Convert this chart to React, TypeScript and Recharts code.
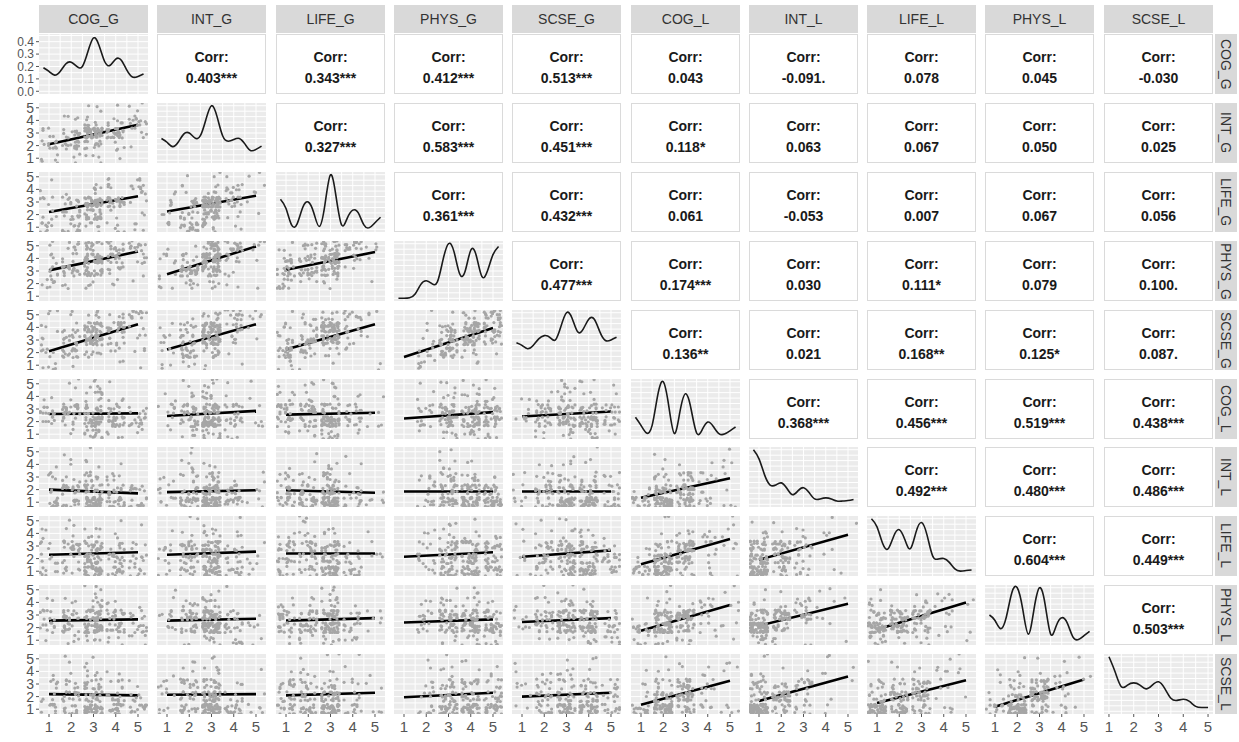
import { ComposedChart, Scatter, Line, XAxis, YAxis, CartesianGrid } from "recharts"

const VARIABLES = ["COG_G", "INT_G", "LIFE_G", "PHYS_G", "SCSE_G", "COG_L", "INT_L", "LIFE_L", "PHYS_L", "SCSE_L"]

// item scores (1-5), one entry per respondent
const COG_G = [3,2,4,3,5,3,1,3,4,2, 3,3,2,4,1,3,5,3,4,3, 2,3,3,1,4,3,2,5,3,4, 3,2,3,4,3,1,3,2,5,4, 3,3,4,2,3,5,1,3,4,3, 2,3,3,4,1,2,3,5,3,4, 3,2,4,3,3,1,5,3,2,4, 3,4,2,3,3,5,1,3,4,2, 3,3,2,4,5,3,1,3,4,3, 2,3,4,3,5,1,3,2,4,3,
    4,3,2,5,3,1,4,2,3,3, 5,2,3,4,3,2,1,4,3,5, 3,4,2,3,1,3,4,5,2,3, 4,3,3,2,5,1,3,4,2,3, 3,5,2,4,3,3,1,2,4,3, 2,4,3,1,3,5,3,2,4,3, 3,1,4,3,2,5,3,4,3,2, 4,3,5,2,3,1,3,4,2,3, 3,2,4,5,3,3,1,2,4,3, 5,3,2,3,4,1,3,3,2,4]
const INT_G = [3,3,3,2,4,3,3,2,3,3, 2,3,3,3,1,3,4,3,2,3, 4,3,2,3,3,1,3,2,3,4, 3,3,3,2,4,3,2,1,3,3, 4,3,3,2,3,3,1,2,4,3, 3,3,2,3,3,4,1,3,3,2, 3,4,3,1,3,2,4,3,3,3, 2,3,3,5,2,4,3,1,3,3, 2,3,4,3,3,5,2,3,1,3, 3,4,2,3,3,2,5,3,3,2,
    3,3,2,4,3,2,3,2,3,4, 4,2,3,3,3,1,2,4,3,4, 3,3,2,3,2,3,4,5,2,3, 3,3,4,2,4,1,3,3,2,3, 3,4,2,3,3,2,1,3,4,3, 2,3,3,2,3,5,3,2,3,3, 3,2,4,3,2,4,3,3,3,1, 3,3,4,2,3,2,3,5,2,3, 3,2,3,4,3,3,1,2,3,4, 5,3,2,3,3,2,3,4,2,3]
const LIFE_G = [2,3,1,3,4,2,3,1,3,3, 1,3,2,3,4,3,1,2,3,2, 3,1,3,2,3,4,3,1,3,2, 3,2,1,3,3,2,4,3,1,5, 2,3,3,1,2,3,3,4,1,3, 3,2,3,1,3,3,2,4,3,1, 2,3,1,3,4,3,2,1,3,3, 4,1,3,2,3,3,5,2,3,1, 3,2,3,3,1,4,3,2,3,1, 2,3,5,3,2,1,3,4,2,3,
    3,2,1,4,3,1,3,2,3,3, 4,1,3,3,2,2,1,3,3,4, 2,3,1,3,1,3,4,4,2,3, 3,2,3,1,4,1,3,3,2,2, 3,4,1,3,3,2,1,2,3,3, 1,3,3,2,3,5,2,1,4,3, 3,1,3,3,2,4,3,3,2,1, 3,3,5,2,2,1,3,4,1,3, 3,2,3,4,2,3,1,2,3,4, 5,3,1,3,3,2,2,3,1,4]
const PHYS_G = [3,5,4,3,4,5,3,2,5,4, 4,3,5,3,4,2,4,5,3,4, 5,4,3,3,5,4,2,4,5,3, 3,4,5,3,4,5,3,3,4,2, 5,3,4,4,3,5,4,3,2,5, 4,3,5,3,4,3,5,4,3,4, 3,5,2,4,5,3,4,5,3,4, 4,3,5,4,3,2,5,4,3,5, 3,4,4,5,3,5,3,2,4,4, 5,3,4,3,5,4,2,5,3,4,
    4,4,3,5,4,2,4,3,4,5, 5,3,4,4,3,2,3,5,4,5, 3,4,3,4,2,4,5,5,3,4, 4,3,4,3,5,2,4,5,3,4, 4,5,3,4,3,3,2,3,5,4, 3,4,4,2,4,5,4,3,5,3, 4,2,5,4,3,5,3,4,4,3, 5,4,5,3,4,2,3,5,3,4, 4,3,5,5,4,4,2,3,4,5, 5,4,3,4,4,3,3,4,2,5]
const SCSE_G = [4,3,2,4,5,3,4,2,3,4, 3,2,4,5,3,3,2,4,4,3, 5,4,3,2,3,4,1,3,5,4, 2,3,4,4,3,5,2,3,4,1, 3,4,5,3,2,4,3,4,3,5, 4,2,3,3,5,4,3,2,4,3, 3,5,4,2,3,4,1,4,3,3, 4,3,2,5,4,3,3,4,2,4, 3,5,3,4,2,3,4,5,3,2, 4,3,1,4,3,5,4,3,2,4,
    4,3,2,5,4,2,4,3,3,4, 5,2,3,4,3,2,2,4,3,5, 3,4,2,4,1,3,5,5,2,4, 4,3,4,2,5,1,3,4,3,3, 4,5,2,4,3,3,1,3,4,4, 2,4,3,2,3,5,4,2,4,3, 4,1,4,3,3,5,3,4,3,2, 4,4,5,2,3,2,3,5,2,3, 4,2,4,5,3,4,1,3,4,4, 5,3,2,4,4,2,3,4,2,4]
const COG_L = [2,3,2,1,3,2,2,4,3,2, 3,2,5,2,3,1,2,3,2,4, 3,2,1,3,2,3,2,2,4,3, 2,3,2,1,5,3,2,3,2,2, 4,3,2,3,1,2,3,2,3,5, 2,3,2,4,3,2,1,3,2,3, 2,3,2,2,4,3,2,1,3,2, 3,5,2,3,2,2,3,4,1,3, 2,2,3,2,3,4,2,3,2,1, 3,2,4,2,3,2,5,3,2,3,
    3,1,2,2,4,2,3,1,2,3, 2,3,2,1,2,3,4,2,3,1, 2,2,3,5,2,1,3,2,3,2, 4,2,1,3,2,3,2,2,5,3, 2,1,3,2,2,3,4,3,2,1, 3,2,2,3,5,2,3,1,2,2, 3,2,1,2,3,2,4,3,2,3, 2,1,3,2,4,3,2,2,3,2, 1,3,2,3,2,2,3,5,2,3, 2,2,4,1,3,2,3,2,3,2]
const INT_L = [1,1,2,1,2,1,3,1,1,2, 1,2,1,3,1,1,2,1,4,1, 1,2,1,1,3,2,1,1,2,1, 3,1,1,2,1,1,4,1,2,1, 1,3,1,1,2,1,1,5,1,2, 2,1,1,1,3,2,1,2,1,1, 1,2,3,1,1,1,2,1,4,2, 1,1,2,3,1,2,1,1,2,1, 3,1,1,2,1,2,1,1,3,2, 1,2,1,1,2,1,3,2,1,1,
    2,1,1,1,3,1,2,1,1,2, 1,3,1,1,2,2,4,1,2,1, 1,2,2,4,1,1,3,1,2,1, 3,1,1,2,1,2,1,2,5,3, 1,1,2,1,2,3,3,2,1,1, 2,1,1,3,4,1,2,1,1,2, 3,1,1,1,2,2,3,2,1,2, 1,1,2,1,3,2,1,2,3,1, 1,2,1,2,1,1,3,4,1,2, 1,2,3,1,2,1,2,1,3,1]
const LIFE_L = [1,3,2,1,2,3,1,2,1,3, 2,1,3,2,1,3,1,4,2,1, 3,1,2,3,1,2,1,3,2,4, 1,2,3,1,3,2,1,1,3,2, 4,1,2,3,2,1,3,1,2,3, 1,2,3,1,2,4,3,1,1,2, 3,1,2,3,1,2,5,1,3,1, 2,3,1,1,3,2,4,1,2,3, 1,2,3,1,2,3,1,4,2,1, 3,1,2,2,3,1,1,2,5,3,
    3,1,2,1,3,1,3,1,2,2, 1,3,2,1,2,3,4,1,3,1, 1,2,3,4,2,1,3,2,2,1, 4,1,1,3,2,2,1,3,5,3, 2,1,2,1,2,3,4,3,1,1, 3,1,2,2,4,2,3,1,1,2, 3,1,1,2,3,1,4,2,2,3, 1,1,3,2,3,3,1,2,3,1, 1,3,2,2,1,2,3,5,1,3, 2,2,3,1,3,1,2,2,4,1]
const PHYS_L = [3,2,2,3,1,2,3,4,2,2, 3,2,1,3,2,4,3,2,2,3, 1,3,2,2,4,3,2,3,2,1, 3,2,4,2,3,2,3,2,1,3, 2,4,3,2,2,3,2,1,3,2, 3,2,3,2,1,3,2,4,3,2, 2,1,3,5,2,3,2,2,3,4, 3,2,2,1,3,2,3,3,2,2, 4,3,2,3,2,1,3,2,3,2, 2,5,3,2,3,2,2,3,1,3,
    3,2,2,1,4,2,3,2,2,3, 2,3,2,1,3,3,4,2,3,2, 2,2,3,5,2,1,3,2,3,2, 4,2,2,3,2,3,2,3,4,3, 2,1,3,2,3,3,4,3,2,2, 3,2,2,3,5,2,3,1,2,3, 3,2,1,2,3,2,4,3,2,3, 2,2,3,2,4,3,2,3,3,1, 2,3,2,3,2,2,3,4,2,3, 2,3,4,2,3,2,3,2,3,2]
const SCSE_L = [1,2,1,3,1,1,2,1,3,1, 2,1,1,2,3,1,1,4,1,2, 1,3,2,1,1,2,5,1,2,1, 3,1,2,1,1,3,2,1,2,4, 1,1,3,2,1,2,1,3,1,1, 2,3,1,1,2,1,4,1,2,3, 1,2,1,3,1,1,2,3,1,2, 5,1,2,1,3,2,1,1,2,3, 1,3,1,2,1,4,1,2,1,1, 2,1,3,1,2,3,1,1,4,2,
    2,1,1,1,3,1,2,1,2,2, 1,3,1,1,2,2,4,1,3,1, 1,2,2,5,1,1,3,1,2,1, 3,1,1,2,1,3,1,2,4,3, 1,1,2,1,2,3,3,2,1,1, 3,1,1,2,4,1,3,1,1,2, 3,1,1,1,3,2,4,2,1,2, 1,1,3,1,3,2,1,2,3,1, 1,2,1,3,1,1,3,5,1,2, 1,2,3,1,2,1,2,1,3,1]

// jitter offsets applied to the points
const JITTER_X = [-0.34, 0.12, 0.29, -0.08, 0.38, -0.22, 0.04, -0.39, 0.19, -0.14, 0.33, -0.27, 0.08, -0.02, 0.24, -0.31, 0.16]
const JITTER_Y = [0.21, -0.27, 0.05, 0.32, -0.1, -0.36, 0.16, 0.38, -0.2, 0.09, -0.32, 0.27, -0.03, 0.13, -0.24, 0.35, -0.15, 0.01, -0.39]

// kernel density on the diagonal (COG_G in density units, the rest scaled to their peak)
const DENSITY_X = [0.75, 1, 1.25, 1.5, 1.75, 2, 2.25, 2.5, 2.75, 3, 3.25, 3.5, 3.75, 4, 4.25, 4.5, 4.75, 5, 5.25]
const DENS_COG_G = [0.19, 0.16, 0.13, 0.16, 0.22, 0.235, 0.2, 0.2, 0.32, 0.43, 0.37, 0.24, 0.21, 0.26, 0.25, 0.17, 0.115, 0.12, 0.14]
const DENS_INT_G = [0.4, 0.33, 0.25, 0.33, 0.48, 0.5, 0.41, 0.45, 0.75, 1.0, 0.8, 0.45, 0.35, 0.38, 0.4, 0.3, 0.18, 0.2, 0.26]
const DENS_LIFE_G = [0.55, 0.38, 0.08, 0.1, 0.4, 0.5, 0.3, 0.05, 0.45, 1.0, 0.6, 0.08, 0.2, 0.35, 0.3, 0.08, 0.03, 0.12, 0.22]
const DENS_PHYS_G = [0, 0, 0.01, 0.08, 0.25, 0.32, 0.27, 0.3, 0.7, 1.0, 0.85, 0.45, 0.5, 0.88, 0.78, 0.4, 0.5, 0.8, 0.95]
const DENS_SCSE_G = [0.45, 0.4, 0.34, 0.4, 0.52, 0.58, 0.55, 0.5, 0.75, 1.0, 0.9, 0.65, 0.7, 0.88, 0.88, 0.65, 0.49, 0.5, 0.55]
const DENS_COG_L = [0.35, 0.2, 0.06, 0.2, 0.75, 1.0, 0.55, 0.05, 0.45, 0.78, 0.5, 0.06, 0.12, 0.26, 0.18, 0.05, 0.04, 0.1, 0.17]
const DENS_INT_L = [1.02, 0.85, 0.55, 0.36, 0.36, 0.4, 0.3, 0.18, 0.25, 0.31, 0.22, 0.1, 0.1, 0.12, 0.1, 0.06, 0.06, 0.07, 0.09]
const DENS_LIFE_L = [1.0, 0.85, 0.55, 0.45, 0.68, 0.8, 0.62, 0.45, 0.75, 0.93, 0.7, 0.32, 0.26, 0.27, 0.2, 0.08, 0.04, 0.05, 0.06]
const DENS_PHYS_L = [0.5, 0.4, 0.25, 0.45, 0.9, 1.0, 0.6, 0.15, 0.6, 1.0, 0.7, 0.15, 0.3, 0.45, 0.35, 0.1, 0.05, 0.12, 0.2]
const DENS_SCSE_L = [1.2, 1.0, 0.72, 0.45, 0.48, 0.52, 0.48, 0.41, 0.48, 0.54, 0.42, 0.24, 0.2, 0.22, 0.18, 0.09, 0.07, 0.07, 0.08]

// upper triangle: Pearson r and significance, row by row
const CORR = [
    [0.403, 0.343, 0.412, 0.513, 0.043, -0.091, 0.078, 0.045, -0.03],
    [0.327, 0.583, 0.451, 0.118, 0.063, 0.067, 0.05, 0.025],
    [0.361, 0.432, 0.061, -0.053, 0.007, 0.067, 0.056],
    [0.477, 0.174, 0.03, 0.111, 0.079, 0.1],
    [0.136, 0.021, 0.168, 0.125, 0.087],
    [0.368, 0.456, 0.519, 0.438],
    [0.492, 0.48, 0.486],
    [0.604, 0.449],
    [0.503],
]
const SIGNIF = [
    ["***", "***", "***", "***", "", ".", "", "", ""],
    ["***", "***", "***", "*", "", "", "", ""],
    ["***", "***", "", "", "", "", ""],
    ["***", "***", "", "*", "", "."],
    ["**", "", "**", "*", "."],
    ["***", "***", "***", "***"],
    ["***", "***", "***"],
    ["***", "***"],
    ["***"],
]

// lower triangle: fitted line at x = 1 and x = 5
const FIT_AT_1 = [
    [],
    [2.1],
    [2.2, 2.25],
    [3.05, 2.75, 3.1],
    [2.1, 2.25, 2.25, 1.65],
    [2.6, 2.45, 2.55, 2.25, 2.4],
    [2.0, 1.8, 1.95, 1.85, 1.85, 1.35],
    [2.3, 2.3, 2.4, 2.15, 2.15, 1.55, 1.9],
    [2.55, 2.55, 2.55, 2.4, 2.45, 1.75, 2.15, 1.85],
    [2.2, 2.15, 2.1, 1.95, 2.0, 1.35, 1.65, 1.5, 1.2],
]
const FIT_AT_5 = [
    [],
    [3.65],
    [3.45, 3.5],
    [4.55, 4.95, 4.5],
    [4.25, 4.25, 4.25, 3.95],
    [2.65, 2.85, 2.7, 2.75, 2.8],
    [1.7, 1.95, 1.75, 1.85, 1.85, 2.9],
    [2.5, 2.55, 2.4, 2.5, 2.65, 3.55, 3.9],
    [2.65, 2.7, 2.75, 2.65, 2.75, 3.8, 3.9, 4.0],
    [2.1, 2.2, 2.3, 2.3, 2.3, 3.25, 3.6, 3.3, 3.35],
]

const SCORES = [COG_G, INT_G, LIFE_G, PHYS_G, SCSE_G, COG_L, INT_L, LIFE_L, PHYS_L, SCSE_L]
const DENSITIES = [DENS_COG_G, DENS_INT_G, DENS_LIFE_G, DENS_PHYS_G, DENS_SCSE_G, DENS_COG_L, DENS_INT_L, DENS_LIFE_L, DENS_PHYS_L, DENS_SCSE_L]

const FONT = '"Liberation Sans", Arial, sans-serif'
const W = 109
const H = 60
const AXIS_W = 36
const AXIS_H = 26
const colLeft = (c: number) => Math.round(39 + c * 118.3)
const rowTop = (r: number) => Math.round(34 + r * 68.9)

const HALF_STEPS = [1, 1.5, 2, 2.5, 3, 3.5, 4, 4.5, 5]
const INTEGER_TICKS = [1, 2, 3, 4, 5]
const Y_DOMAIN: [number, number] = [0.62, 5.38]
const xDomain = (c: number): [number, number] => (c === 9 ? [0.8, 5.2] : [0.55, 5.45])

const TICK = { fontSize: 15, fill: "#555", fontFamily: FONT }
const TICK_Y = { fontSize: 14, fill: "#555", fontFamily: FONT }
const TICK_DENS = { fontSize: 12, fill: "#555", fontFamily: FONT }

const Dot = (p: any) => <circle cx={p.cx} cy={p.cy} r={1.6} fill="#a6a6a6" />

function Panel({ r, c }: { r: number; c: number }) {
    const showX = r === 9
    const showY = c === 0
    const width = W + (showY ? AXIS_W : 0)
    const height = H + (showX ? AXIS_H : 0)
    const left = colLeft(c) - (showY ? AXIS_W : 0)
    const xd = xDomain(c)

    let yDomain: [number, number] = Y_DOMAIN
    let yTicks = INTEGER_TICKS
    let yGrid = HALF_STEPS
    let yFormat = (v: number) => String(v)
    let series

    if (r === c) {
        const dens = DENSITIES[r]
        const data = DENSITY_X.map((x, k) => ({ x, y: dens[k] })).filter((d) => d.x >= xd[0] && d.x <= xd[1])
        if (r === 0) {
            yDomain = [-0.022, 0.462]
            yTicks = [0, 0.1, 0.2, 0.3, 0.4]
            yGrid = [0, 0.05, 0.1, 0.15, 0.2, 0.25, 0.3, 0.35, 0.4, 0.45]
            yFormat = (v: number) => v.toFixed(1)
        } else {
            const top = Math.max(...data.map((d) => d.y))
            yDomain = [-0.05 * top, 1.05 * top]
            yGrid = [0, 0.1, 0.2, 0.3, 0.4, 0.5, 0.6, 0.7, 0.8, 0.9, 1].map((f) => f * top)
        }
        series = (
            <Line data={data} dataKey="y" type="natural" stroke="#1a1a1a" strokeWidth={1.6} dot={false} isAnimationActive={false} />
        )
    } else {
        const xs = SCORES[c]
        const ys = SCORES[r]
        const points = xs.map((v, i) => ({
            x: v + JITTER_X[(i + 3 * c + 5 * r) % 17],
            y: ys[i] + JITTER_Y[(i * 2 + 7 * r + c) % 19],
        }))
        const fit = [
            { x: 1, y: FIT_AT_1[r][c] },
            { x: 5, y: FIT_AT_5[r][c] },
        ]
        series = [
            <Scatter key="pts" data={points} shape={Dot} isAnimationActive={false} />,
            <Line key="fit" data={fit} dataKey="y" type="linear" stroke="#000" strokeWidth={2.6} dot={false} isAnimationActive={false} />,
        ]
    }

    return (
        <div style={{ position: "absolute", left, top: rowTop(r), width, height }}>
            <ComposedChart width={width} height={height} margin={{ top: 0, right: 0, bottom: 0, left: 0 }}>
                <CartesianGrid fill="#ebebeb" stroke="#ffffff" strokeWidth={1} verticalValues={HALF_STEPS} horizontalValues={yGrid} />
                <XAxis
                    type="number"
                    dataKey="x"
                    domain={xd}
                    allowDataOverflow
                    ticks={INTEGER_TICKS}
                    interval={0}
                    hide={!showX}
                    height={AXIS_H}
                    tick={TICK}
                    tickSize={3}
                    tickMargin={4}
                    axisLine={false}
                    tickLine={{ stroke: "#555" }}
                />
                <YAxis
                    type="number"
                    dataKey="y"
                    domain={yDomain}
                    allowDataOverflow
                    ticks={yTicks}
                    interval={0}
                    hide={!showY}
                    width={AXIS_W}
                    tick={r === 0 ? TICK_DENS : TICK_Y}
                    tickFormatter={yFormat}
                    tickSize={3}
                    tickMargin={2}
                    axisLine={false}
                    tickLine={{ stroke: "#555" }}
                />
                {series}
            </ComposedChart>
        </div>
    )
}

function CorrBox({ r, c }: { r: number; c: number }) {
    const v = CORR[r][c - r - 1]
    const s = SIGNIF[r][c - r - 1]
    return (
        <div
            style={{
                position: "absolute",
                left: colLeft(c),
                top: rowTop(r),
                width: W,
                height: H,
                boxSizing: "border-box",
                border: "1px solid #dadada",
                background: "#fff",
                textAlign: "center",
                color: "#1a1a1a",
                fontWeight: 700,
                fontSize: 14,
                lineHeight: "16px",
            }}
        >
            <div style={{ position: "absolute", top: 14, width: "100%" }}>Corr:</div>
            <div style={{ position: "absolute", top: 35, width: "100%" }}>{v.toFixed(3) + s}</div>
        </div>
    )
}

export default function App() {
    const cells = []
    for (let r = 0; r < 10; r++) {
        for (let c = 0; c < 10; c++) {
            cells.push(c > r ? <CorrBox key={`${r}-${c}`} r={r} c={c} /> : <Panel key={`${r}-${c}`} r={r} c={c} />)
        }
    }
    return (
        <div
            style={{
                position: "absolute",
                left: 0,
                top: 0,
                width: 1239,
                height: 742,
                background: "#fff",
                overflow: "hidden",
                fontFamily: FONT,
            }}
        >
            <style>{`.recharts-surface { overflow: visible; }`}</style>
            {VARIABLES.map((v, c) => (
                <div
                    key={"col-" + v}
                    style={{
                        position: "absolute",
                        left: colLeft(c),
                        top: 5,
                        width: W,
                        height: 28,
                        background: "#d9d9d9",
                        color: "#333",
                        fontSize: 14,
                        lineHeight: "28px",
                        textAlign: "center",
                    }}
                >
                    {v}
                </div>
            ))}
            {VARIABLES.map((v, r) => (
                <div
                    key={"row-" + v}
                    style={{
                        position: "absolute",
                        left: 1215,
                        top: rowTop(r),
                        width: 22,
                        height: H,
                        background: "#d9d9d9",
                        color: "#333",
                        fontSize: 14,
                        writingMode: "vertical-rl",
                        lineHeight: "22px",
                        textAlign: "center",
                    }}
                >
                    {v}
                </div>
            ))}
            {cells}
        </div>
    )
}
